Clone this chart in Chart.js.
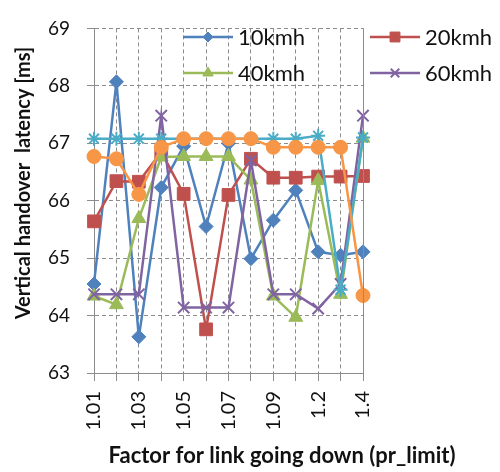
<!DOCTYPE html>
<html>
<head>
<meta charset="utf-8">
<script src="https://cdn.jsdelivr.net/npm/chart.js@4.4.0/dist/chart.umd.min.js"></script>
<style>
    body { margin: 0; background: #fff; }
    #wrap { width: 500px; height: 472px; }
</style>
</head>
<body>
<div id="wrap"><canvas id="myChart" width="500" height="472"></canvas></div>
<script>
const xValues = ["1.01", "1.02", "1.03", "1.04", "1.05", "1.06", "1.07", "1.08", "1.09", "1.1", "1.2", "1.3", "1.4"]
const yTicks = [63, 64, 65, 66, 67, 68, 69]

const kmh10 = [64.55, 68.07, 63.63, 66.23, 66.95, 65.55, 67.0, 64.99, 65.66, 66.18, 65.11, 65.05, 65.11]
const kmh20 = [65.64, 66.34, 66.33, 66.85, 66.12, 63.76, 66.10, 66.73, 66.40, 66.40, 66.42, 66.42, 66.43]
const kmh40 = [64.34, 64.19, 65.69, 66.76, 66.77, 66.77, 66.77, 66.36, 64.34, 63.97, 66.35, 64.37, 67.09]
const kmh60 = [64.37, 64.37, 64.37, 67.48, 64.14, 64.14, 64.14, 66.70, 64.37, 64.37, 64.12, 64.55, 67.48]
const series5 = [67.08, 67.08, 67.08, 67.08, 67.08, 67.08, 67.08, 67.08, 67.08, 67.08, 67.13, 64.45, 67.10]
const series6 = [66.77, 66.73, 66.11, 66.93, 67.08, 67.08, 67.08, 67.08, 66.93, 66.93, 66.93, 66.93, 64.35]

const FONT = "Lato, 'Open Sans', sans-serif"
const GRID = '#8c8c8c'

function make_set(label, data, color, style, radius, order) {
    return {
        label: label,
        data: data,
        borderColor: color,
        backgroundColor: color,
        pointBackgroundColor: color,
        pointBorderColor: color,
        pointStyle: style,
        pointRadius: radius,
        pointBorderWidth: (style == 'crossRot' || style == 'star') ? 2 : 1,
        borderWidth: 2.5,
        tension: 0,
        order: order
    }
}

// legend + axis titles drawn by hand so they sit where the original has them
const extras = {
    id: 'extras',
    afterDraw(chart) {
        const ctx = chart.ctx
        const area = chart.chartArea
        ctx.save()

        // solid right frame
        ctx.strokeStyle = GRID
        ctx.lineWidth = 1
        ctx.beginPath()
        ctx.moveTo(Math.round(area.right) + 0.5, area.top)
        ctx.lineTo(Math.round(area.right) + 0.5, area.bottom)
        ctx.stroke()

        ctx.fillStyle = '#111'
        ctx.font = "bold 22px " + FONT
        ctx.textAlign = 'center'
        ctx.textBaseline = 'middle'
        ctx.fillText('Factor for link going down (pr_limit)', 282, 456)

        ctx.font = "bold 20px " + FONT
        ctx.translate(24, 183)
        ctx.rotate(-Math.PI / 2)
        ctx.fillText('Vertical handover  latency [ms]', 0, 0)
        ctx.restore()

        const items = [
            [0, 183, 37], [2, 183, 73], [1, 370, 37], [3, 370, 73]
        ]
        items.forEach(function (it) {
            const ds = chart.data.datasets[it[0]]
            const x = it[1], y = it[2]
            ctx.save()
            ctx.strokeStyle = ds.borderColor
            ctx.lineWidth = 2.5
            ctx.beginPath()
            ctx.moveTo(x, y)
            ctx.lineTo(x + 50, y)
            ctx.stroke()
            ctx.fillStyle = ds.backgroundColor
            ctx.lineWidth = ds.pointBorderWidth
            Chart.helpers.drawPoint(ctx, { pointStyle: ds.pointStyle, radius: ds.pointRadius - 2, rotation: 0, borderWidth: ds.pointBorderWidth }, x + 25, y)
            ctx.fillStyle = '#111'
            ctx.font = "22px " + FONT
            ctx.textAlign = 'left'
            ctx.textBaseline = 'middle'
            ctx.fillText(ds.label, x + 55, y + 1)
            ctx.restore()
        })
    }
}

function my_line_chart() {
    new Chart("myChart", {
        type: 'line',
        data: {
            labels: xValues,
            datasets: [
                make_set('10kmh', kmh10, '#4F81BD', 'rectRot', 7, 6),
                make_set('20kmh', kmh20, '#C0504D', 'rect', 9, 5),
                make_set('40kmh', kmh40, '#9BBB59', 'triangle', 8, 4),
                make_set('60kmh', kmh60, '#8064A2', 'crossRot', 8, 3),
                make_set('Series5', series5, '#4BACC6', 'star', 7, 2),
                make_set('Series6', series6, '#F79646', 'circle', 7, 1)
            ]
        },
        options: {
            responsive: false,
            animation: false,
            devicePixelRatio: 1,
            layout: {
                padding: { left: 0, top: 17, right: 137, bottom: 0 }
            },
            scales: {
                x: {
                    offset: false,
                    grid: { color: GRID, offset: false, tickLength: 8, tickColor: GRID },
                    border: { color: GRID, dash: [4, 3] },
                    ticks: {
                        autoSkip: false,
                        maxRotation: 90,
                        minRotation: 90,
                        padding: 10,
                        color: '#111',
                        font: { family: FONT, size: 20 },
                        callback: function (value, index) {
                            return index % 2 == 0 ? xValues[index] : ''
                        }
                    },
                    afterFit: function (scale) { scale.height = 99 }
                },
                y: {
                    min: yTicks[0],
                    max: yTicks[yTicks.length - 1],
                    grid: { color: GRID, tickLength: 7, tickColor: GRID },
                    border: { color: GRID, dash: [4, 3] },
                    ticks: {
                        stepSize: 1,
                        padding: 17,
                        color: '#111',
                        font: { family: FONT, size: 19 }
                    },
                    afterFit: function (scale) { scale.width = 94 }
                }
            },
            plugins: {
                legend: { display: false },
                tooltip: { enabled: false }
            }
        },
        plugins: [extras]
    })
}

my_line_chart()
</script>
</body>
</html>
